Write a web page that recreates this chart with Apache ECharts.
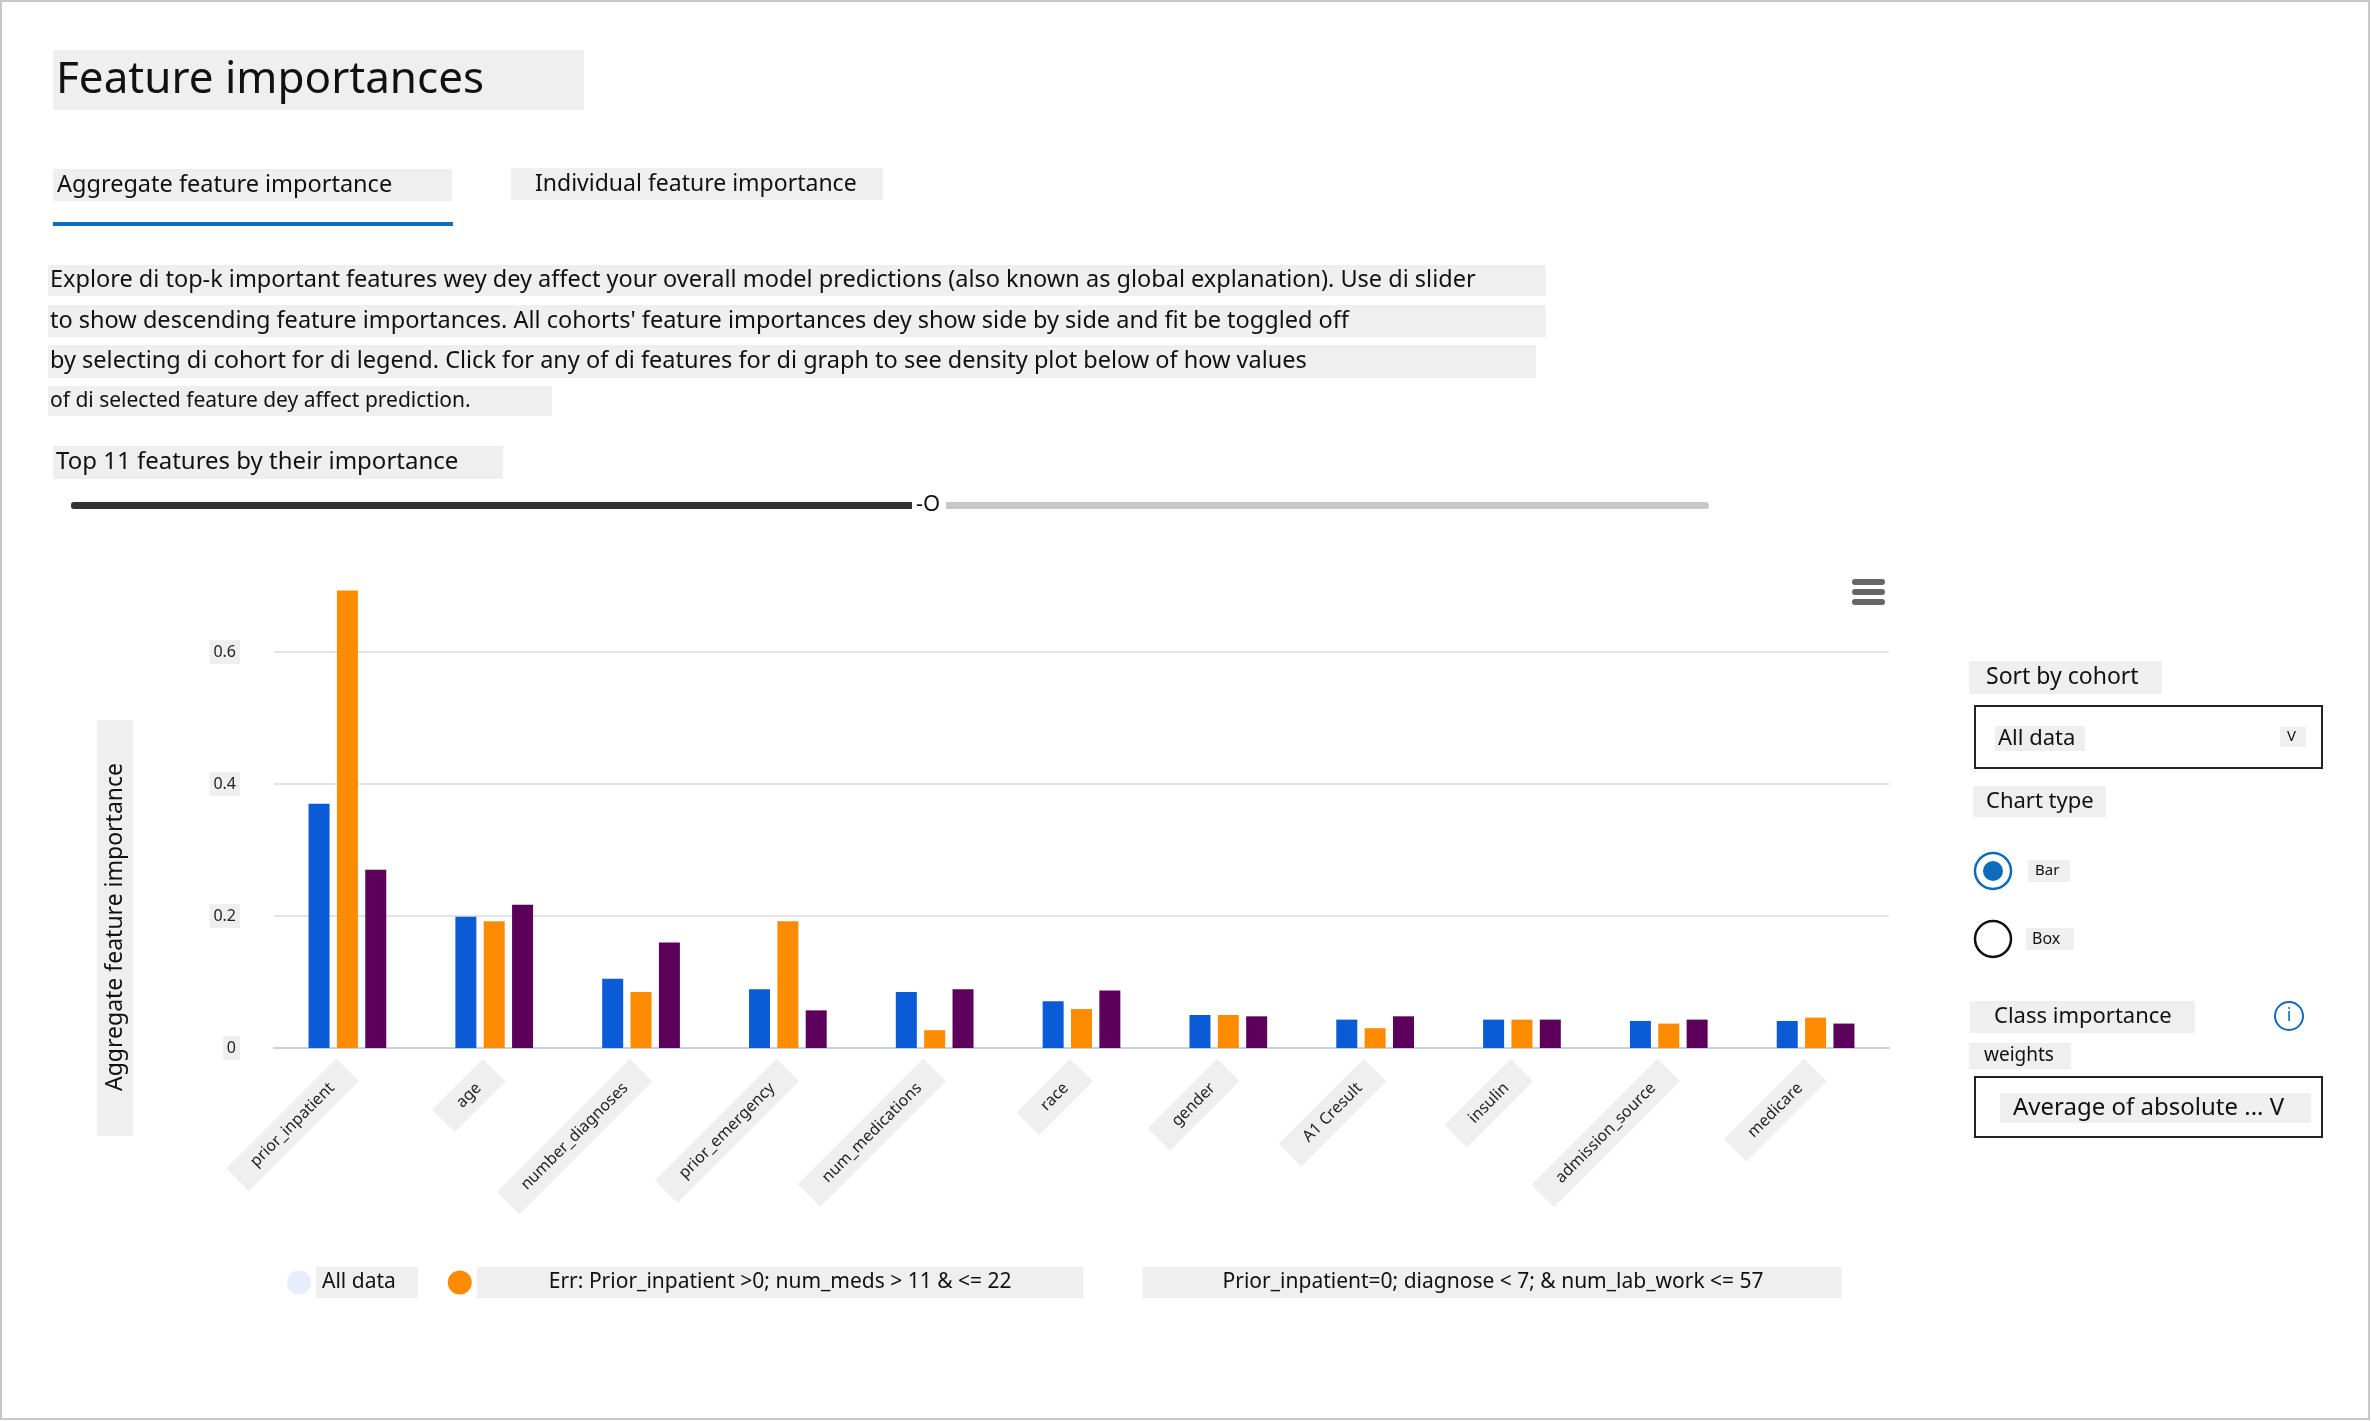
<!DOCTYPE html>
<html><head><meta charset="utf-8">
<script src="https://cdn.jsdelivr.net/npm/echarts@6/dist/echarts.min.js"></script>
<style>html,body{margin:0;padding:0;background:#fff}#c{width:2371px;height:1421px}</style>
</head><body><div id="c"></div>
<script>
const categories=['prior_inpatient','age','number_diagnoses','prior_emergency','num_medications','race','gender','A1 Cresult','insulin','admission_source','medicare'];
const seriesNames=['All data','Err: Prior_inpatient >0; num_meds > 11 & <= 22','Prior_inpatient=0; diagnose < 7; & num_lab_work <= 57'];
const allData=[0.370,0.199,0.105,0.089,0.085,0.071,0.050,0.043,0.043,0.041,0.041];
const errCohort=[0.693,0.192,0.085,0.192,0.027,0.059,0.050,0.030,0.043,0.037,0.046];
const otherCohort=[0.270,0.217,0.160,0.057,0.089,0.087,0.048,0.048,0.043,0.043,0.037];
const colors=['#0b5bd7','#ff8c00','#5c005c'];
const F='"Noto Sans", "Open Sans", sans-serif';
const bg='#efefef';
function box(x,y,w,h,text,size,tx){return [
 {type:'rect',shape:{x:x,y:y,width:w,height:h},style:{fill:bg}},
 {type:'text',x:tx!==undefined?tx:x+4,y:y+h/2,style:{text:text,font:size+'px '+F,fill:'#111',textVerticalAlign:'middle'}}];}
let g=[];
g.push({type:'rect',shape:{x:1,y:1,width:2368,height:1418},style:{fill:null,stroke:'#c8c8c8',lineWidth:2}});
g=g.concat(box(53,50,531,60,'Feature importances',44,56));
g=g.concat(box(53,169,399,32,'Aggregate feature importance',23.5,57));
g.push({type:'rect',shape:{x:53,y:222,width:400,height:4},style:{fill:'#0f6cbd'}});
g=g.concat(box(511,168,372,32,'Individual feature importance',23,535));
g=g.concat(box(48,265,1498,31,"Explore di top-k important features wey dey affect your overall model predictions (also known as global explanation). Use di slider",23.5,50));
g=g.concat(box(48,305,1498,32,"to show descending feature importances. All cohorts' feature importances dey show side by side and fit be toggled off",23.5,50));
g=g.concat(box(48,345,1488,33,"by selecting di cohort for di legend. Click for any of di features for di graph to see density plot below of how values",23.5,50));
g=g.concat(box(48,386,504,30,"of di selected feature dey affect prediction.",21,50));
g=g.concat(box(53,446,450,33,'Top 11 features by their importance',24,56));
g.push({type:'rect',shape:{x:71,y:502,width:1638,height:7,r:3},style:{fill:'#c8c8c8'}});
g.push({type:'rect',shape:{x:71,y:502,width:845,height:7,r:3},style:{fill:'#333'}});
g.push({type:'rect',shape:{x:912,y:490,width:34,height:30},style:{fill:'#fff'}});
g.push({type:'text',x:916,y:505,style:{text:'-O',font:'22px '+F,fill:'#111',textVerticalAlign:'middle'}});
[580,590,600].forEach(y=>g.push({type:'rect',shape:{x:1852,y:y-1,width:33,height:6,r:3},style:{fill:'#666'}}));
g=g.concat(box(1969,661,193,33,'Sort by cohort',23,1986));
g.push({type:'rect',shape:{x:1975,y:706,width:347,height:62},style:{fill:'#fff',stroke:'#222',lineWidth:2}});
g=g.concat(box(1995,726,90,25,'All data',22,1998));
g.push({type:'rect',shape:{x:2280,y:727,width:26,height:20},style:{fill:bg}});
g.push({type:'text',x:2287,y:737,style:{text:'V',font:'15px '+F,fill:'#111',textVerticalAlign:'middle'}});
g=g.concat(box(1973,786,133,31,'Chart type',22,1986));
g.push({type:'circle',shape:{cx:1993,cy:871,r:18},style:{fill:'#fff',stroke:'#0f6cbd',lineWidth:2.5}});
g.push({type:'circle',shape:{cx:1993,cy:871,r:10},style:{fill:'#0f6cbd'}});
g=g.concat(box(2028,860,42,22,'Bar',15,2035));
g.push({type:'circle',shape:{cx:1993,cy:939,r:18},style:{fill:'#fff',stroke:'#111',lineWidth:2.5}});
g=g.concat(box(2026,928,48,22,'Box',16,2032));
g=g.concat(box(1970,1001,225,32,'Class importance',22,1994));
g.push({type:'circle',shape:{cx:2289,cy:1016,r:14},style:{fill:'#fff',stroke:'#0f6cbd',lineWidth:2}});
g.push({type:'text',x:2289,y:1016,style:{text:'i',font:'18px '+F,fill:'#0f6cbd',textAlign:'center',textVerticalAlign:'middle'}});
g=g.concat(box(1969,1043,102,26,'weights',19,1984));
g.push({type:'rect',shape:{x:1975,y:1077,width:347,height:60},style:{fill:'#fff',stroke:'#222',lineWidth:2}});
g=g.concat(box(2000,1093,311,30,'Average of absolute ... V',24,2013));
g=g.concat(box(97,720,36,416,'',20));
g.push({type:'text',x:115,y:927,rotation:Math.PI/2,style:{text:'Aggregate feature importance',font:'23px '+F,fill:'#111',textAlign:'center',textVerticalAlign:'middle'}});
const chart=echarts.init(document.getElementById('c'));
chart.setOption({
 animation:false,
 grid:{left:274,right:482,top:586,bottom:373},
 xAxis:{type:'category',data:categories,axisLine:{lineStyle:{color:'#c8d0e0',width:2}},axisTick:{show:false},
  axisLabel:{rotate:45,interval:0,fontFamily:F,fontSize:16,color:'#222',margin:22,backgroundColor:bg,padding:[8,22]}},
 yAxis:{type:'value',min:0,max:0.7,interval:0.2,axisLine:{show:false},axisTick:{show:false},
  axisLabel:{showMaxLabel:false,fontFamily:F,fontSize:16,color:'#222',margin:34,backgroundColor:bg,padding:[4,4],formatter:v=>v===0?'0':v.toFixed(1)},
  splitLine:{lineStyle:{color:['#e3e3e3','#e3e3e3','#e3e3e3','#e3e3e3','rgba(0,0,0,0)'],width:2}}},
 legend:{left:282,top:1262,itemGap:30,itemWidth:24,itemHeight:24,icon:'circle',
  textStyle:{fontFamily:F,fontSize:21,color:'#111',backgroundColor:bg},
  data:[{name:seriesNames[0],itemStyle:{opacity:0.1},textStyle:{padding:[5,22,5,6]}},
        {name:seriesNames[1],textStyle:{padding:[5,72,5,72]}},
        {name:seriesNames[2],itemStyle:{opacity:0},textStyle:{padding:[5,78,5,80]}}]},
 series:[allData,errCohort,otherCohort].map((d,i)=>({type:'bar',name:seriesNames[i],data:d,barWidth:21,barGap:'35%',itemStyle:{color:colors[i]}})),
 graphic:g
});
</script></body></html>
